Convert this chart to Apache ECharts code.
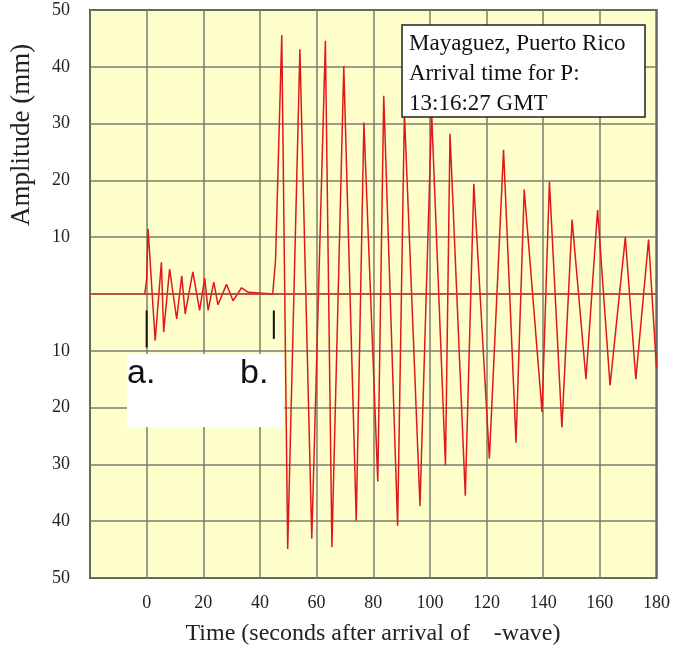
<!DOCTYPE html>
<html>
<head>
<meta charset="utf-8">
<script src="https://cdn.jsdelivr.net/npm/echarts@6/dist/echarts.min.js"></script>
<style>
  html, body { margin: 0; padding: 0; background: #fff; }
  #main { width: 673px; height: 649px; }
</style>
</head>
<body>
<div id="main"></div>
<script>
// P-wave part of the trace (seconds, mm)
var pTime = [-0.7, 0, 0.5, 3, 5.2, 6, 8.1, 10.6, 12.4, 13.6, 16.3, 18.7, 20.5, 21.7, 23.7, 25.2, 28.2, 30.5, 33.5, 35.9, 36.5];
var pAmp  = [0, 2.6, 11.5, -8.2, 5.6, -6.7, 4.4, -4.4, 3.2, -3.5, 3.9, -2.9, 2.8, -2.9, 2.1, -1.9, 1.7, -1.2, 1.1, 0.3, 0];

// S-wave part
var sTime = [44.5, 45.5, 47.7, 49.8, 54.1, 58.3, 63.1, 65.4, 69.6, 74, 76.7, 81.6, 83.7, 88.6, 91, 96.5, 100.6, 105.5, 107.1, 112.5,
             115.5, 121, 126, 130.4, 133.3, 139.6, 142.2, 146.6, 150.2, 155.1, 159.2, 163.6, 169, 172.7, 177.2, 180];
var sAmp  = [0, 5.9, 45.6, -44.9, 43.1, -43.1, 44.6, -44.6, 40.1, -39.9, 30.2, -33, 34.9, -40.8, 32, -37.3, 32, -30.2, 28.2, -35.5,
             19.4, -29, 25.4, -26.2, 18.4, -20.8, 19.8, -23.5, 13.1, -15, 14.8, -16.1, 10, -15, 9.6, -13];

// black arrival marks a. and b.
var markA = [[0, -2.9], [0, -9.4]];
var markB = [[44.9, -2.9], [44.9, -7.9]];

var xTicks = { min: -20, max: 180, step: 20 };
var yTicks = { min: -50, max: 50, step: 10 };

function pairs(t, a) {
    var out = [];
    for (var i = 0; i < t.length; i++) out.push([t[i], a[i]]);
    return out;
}
var trace = pairs(pTime, pAmp).concat(pairs(sTime, sAmp));

var serif = 'Liberation Serif';
var chart = echarts.init(document.getElementById('main'));

var option = {
    animation: false,
    backgroundColor: '#ffffff',
    grid: {
        left: 90, right: 14, top: 10, bottom: 71,
        show: true,
        backgroundColor: '#ffffcc',
        borderColor: '#333',
        borderWidth: 2
    },
    xAxis: {
        type: 'value',
        min: xTicks.min, max: xTicks.max, interval: xTicks.step,
        axisLine: { show: false },
        axisTick: { show: false },
        axisLabel: {
            margin: 16, color: '#222', fontFamily: serif, fontSize: 18,
            formatter: function (v) { return v === -20 ? '' : v; }
        },
        splitLine: { show: true, lineStyle: { color: '#7d7d6d', width: 1.5 } }
    },
    yAxis: {
        type: 'value',
        min: yTicks.min, max: yTicks.max, interval: yTicks.step,
        axisLine: { show: false },
        axisTick: { show: false },
        axisLabel: {
            margin: 20, color: '#222', fontFamily: serif, fontSize: 18,
            formatter: function (v) { return v === 0 ? '' : Math.abs(v); }
        },
        splitLine: { show: true, lineStyle: { color: '#7d7d6d', width: 1.5 } }
    },
    series: [
        {
            type: 'line',
            data: trace,
            showSymbol: false,
            lineStyle: { color: '#e01818', width: 1.5 },
            markLine: {
                silent: true,
                symbol: 'none',
                label: { show: false },
                lineStyle: { color: '#c8382a', width: 1.5, type: 'solid' },
                data: [{ yAxis: 0 }]
            },
            z: 3
        },
        { type: 'line', data: markA, showSymbol: false, lineStyle: { color: '#111', width: 2 }, z: 4 },
        { type: 'line', data: markB, showSymbol: false, lineStyle: { color: '#111', width: 2 }, z: 4 }
    ],
    graphic: [
        // white label strip with a. and b.
        { type: 'rect', z: 1, shape: { x: 127, y: 354, width: 157, height: 73 }, style: { fill: '#fff' } },
        { type: 'text', z: 2, x: 127, y: 357, style: { text: 'a.', font: '34px "Liberation Sans"', fill: '#111' } },
        { type: 'text', z: 2, x: 240, y: 357, style: { text: 'b.', font: '34px "Liberation Sans"', fill: '#111' } },
        // station box
        { type: 'rect', z: 10, shape: { x: 402, y: 25, width: 243, height: 92 }, style: { fill: '#fff', stroke: '#222', lineWidth: 1.5 } },
        { type: 'text', z: 11, x: 409, y: 29, style: {
            text: 'Mayaguez, Puerto Rico\nArrival time for P:\n13:16:27 GMT',
            font: '23px "Liberation Serif"', lineHeight: 30, fill: '#111' } },
        // axis titles
        { type: 'text', z: 2, x: 8, y: 226, rotation: Math.PI / 2, style: {
            text: 'Amplitude (mm)', font: '27px "Liberation Serif"', fill: '#222' } },
        { type: 'text', z: 2, x: 373, y: 634, style: {
            text: 'Time (seconds after arrival of    -wave)', font: '24px "Liberation Serif"', fill: '#222',
            align: 'center', verticalAlign: 'middle' } }
    ]
};
chart.setOption(option);
</script>
</body>
</html>
